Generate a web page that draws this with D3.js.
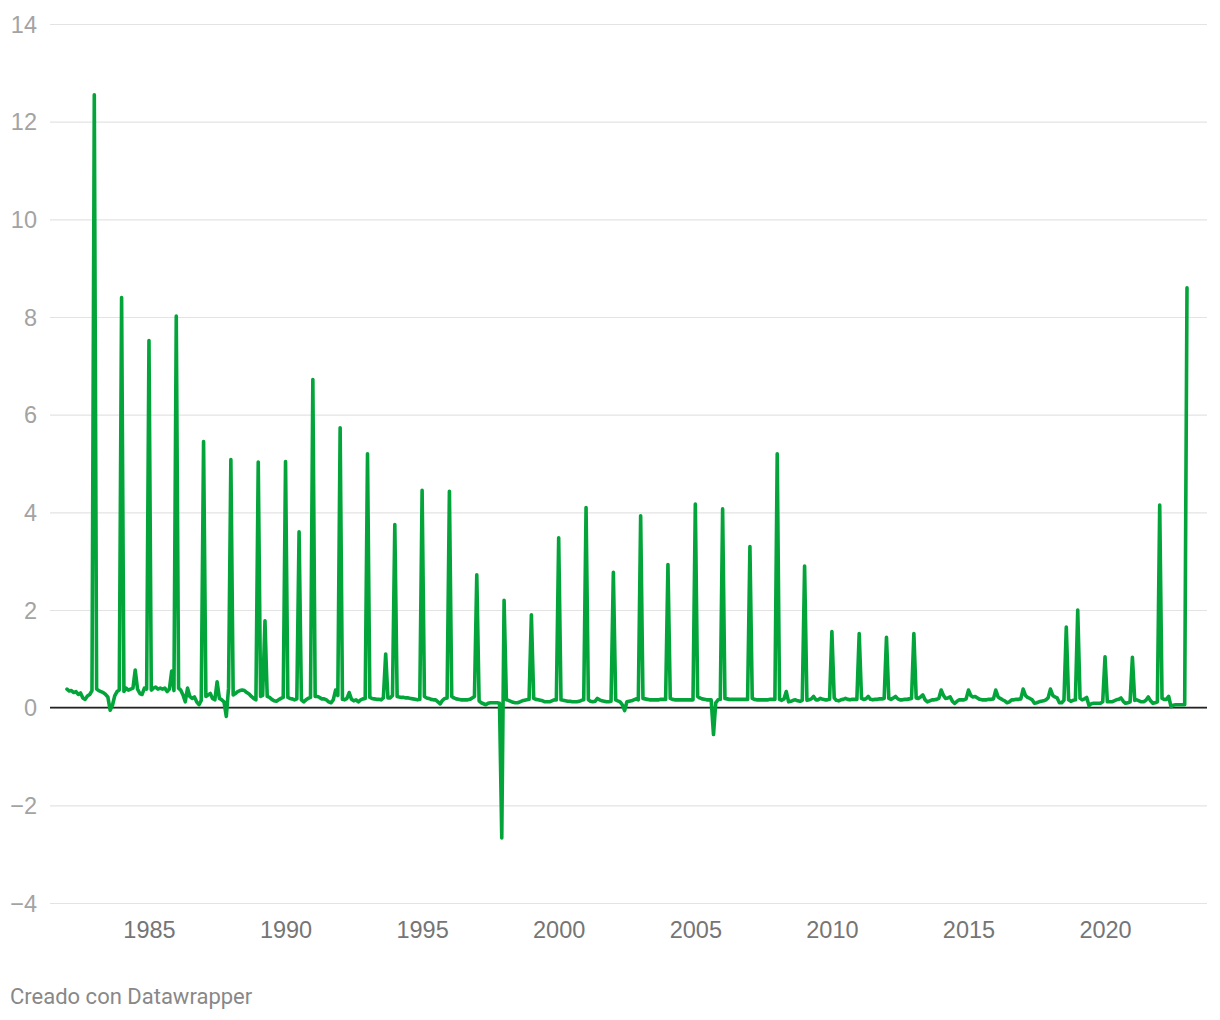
<!DOCTYPE html>
<html>
<head>
<meta charset="utf-8">
<script src="https://cdn.jsdelivr.net/npm/d3@7"></script>
<style>
  html, body { margin: 0; padding: 0; background: #ffffff; }
  svg { display: block; font-family: Roboto, "Noto Sans", sans-serif; }
</style>
</head>
<body>
<svg id="chart" width="1220" height="1020"></svg>
<script>
// ---- data (monthly values, one row per year starting January 1982) ----
const startYear = 1982;
const v1982 = [0.38,0.34,0.35,0.31,0.33,0.27,0.30,0.20,0.17,0.24,0.27,0.35];
const v1983 = [12.55,0.38,0.35,0.33,0.31,0.27,0.22,-0.05,0.05,0.24,0.33,0.36];
const v1984 = [8.40,0.33,0.40,0.36,0.38,0.40,0.77,0.38,0.29,0.27,0.40,0.38];
const v1985 = [7.52,0.36,0.40,0.42,0.38,0.40,0.38,0.40,0.33,0.38,0.75,0.35];
const v1986 = [8.02,0.40,0.36,0.26,0.12,0.40,0.23,0.19,0.22,0.12,0.06,0.15];
const v1987 = [5.45,0.23,0.26,0.29,0.19,0.16,0.53,0.19,0.16,0.12,-0.18,0.40];
const v1988 = [5.08,0.26,0.29,0.33,0.35,0.36,0.35,0.31,0.28,0.23,0.19,0.16];
const v1989 = [5.03,0.23,0.25,1.78,0.23,0.21,0.17,0.14,0.13,0.16,0.19,0.21];
const v1990 = [5.04,0.21,0.19,0.18,0.16,0.18,3.60,0.16,0.12,0.16,0.19,0.21];
const v1991 = [6.72,0.23,0.23,0.21,0.18,0.18,0.16,0.12,0.10,0.16,0.36,0.25];
const v1992 = [5.73,0.17,0.16,0.19,0.31,0.17,0.14,0.16,0.12,0.16,0.18,0.19];
const v1993 = [5.20,0.21,0.19,0.18,0.17,0.17,0.16,0.20,1.10,0.20,0.20,0.25];
const v1994 = [3.75,0.23,0.22,0.21,0.21,0.20,0.20,0.19,0.18,0.17,0.16,0.17];
const v1995 = [4.45,0.23,0.20,0.19,0.17,0.16,0.16,0.12,0.08,0.15,0.19,0.20];
const v1996 = [4.43,0.23,0.20,0.18,0.17,0.16,0.16,0.16,0.16,0.17,0.20,0.23];
const v1997 = [2.72,0.14,0.10,0.08,0.06,0.09,0.10,0.10,0.10,0.10,0.09,-2.67];
const v1998 = [2.20,0.16,0.15,0.13,0.11,0.10,0.10,0.12,0.14,0.15,0.16,0.17];
const v1999 = [1.90,0.19,0.17,0.16,0.15,0.14,0.12,0.12,0.12,0.14,0.16,0.16];
const v2000 = [3.48,0.16,0.15,0.14,0.13,0.13,0.12,0.12,0.12,0.13,0.15,0.16];
const v2001 = [4.10,0.16,0.13,0.12,0.13,0.19,0.16,0.14,0.13,0.12,0.12,0.13];
const v2002 = [2.77,0.16,0.14,0.12,0.06,-0.06,0.12,0.13,0.14,0.16,0.18,0.16];
const v2003 = [3.93,0.19,0.18,0.17,0.16,0.16,0.16,0.16,0.16,0.17,0.17,0.17];
const v2004 = [2.93,0.19,0.17,0.16,0.16,0.16,0.16,0.16,0.16,0.16,0.16,0.16];
const v2005 = [4.17,0.23,0.20,0.18,0.17,0.16,0.16,0.16,-0.55,0.10,0.16,0.17];
const v2006 = [4.07,0.19,0.18,0.17,0.17,0.17,0.17,0.17,0.17,0.17,0.17,0.17];
const v2007 = [3.30,0.19,0.17,0.16,0.16,0.16,0.16,0.16,0.16,0.17,0.17,0.17];
const v2008 = [5.20,0.17,0.15,0.18,0.33,0.12,0.13,0.15,0.16,0.14,0.13,0.15];
const v2009 = [2.90,0.15,0.16,0.18,0.23,0.16,0.16,0.19,0.17,0.16,0.16,0.17];
const v2010 = [1.56,0.20,0.15,0.14,0.16,0.17,0.19,0.17,0.16,0.17,0.17,0.17];
const v2011 = [1.52,0.19,0.17,0.18,0.23,0.17,0.16,0.17,0.17,0.18,0.18,0.19];
const v2012 = [1.44,0.19,0.17,0.20,0.23,0.18,0.16,0.16,0.17,0.17,0.18,0.19];
const v2013 = [1.52,0.20,0.19,0.22,0.26,0.16,0.12,0.14,0.16,0.16,0.17,0.19];
const v2014 = [0.36,0.25,0.19,0.20,0.22,0.13,0.09,0.13,0.16,0.16,0.16,0.18];
const v2015 = [0.36,0.25,0.22,0.23,0.20,0.17,0.16,0.16,0.16,0.17,0.17,0.18];
const v2016 = [0.36,0.22,0.19,0.16,0.14,0.10,0.12,0.16,0.16,0.17,0.17,0.18];
const v2017 = [0.38,0.25,0.21,0.19,0.16,0.09,0.10,0.12,0.13,0.14,0.16,0.20];
const v2018 = [0.38,0.25,0.22,0.20,0.10,0.10,0.15,1.65,0.16,0.13,0.15,0.16];
const v2019 = [2.00,0.19,0.16,0.18,0.21,0.04,0.08,0.09,0.09,0.09,0.09,0.12];
const v2020 = [1.04,0.12,0.12,0.12,0.14,0.16,0.17,0.20,0.13,0.09,0.10,0.12];
const v2021 = [1.03,0.15,0.16,0.14,0.12,0.12,0.15,0.22,0.14,0.09,0.10,0.12];
const v2022 = [4.15,0.19,0.17,0.17,0.23,0.02,0.05,0.06,0.06,0.06,0.06,0.06];
const v2023 = [8.60];

const yearRows = [v1982,v1983,v1984,v1985,v1986,v1987,v1988,v1989,v1990,v1991,
  v1992,v1993,v1994,v1995,v1996,v1997,v1998,v1999,v2000,v2001,v2002,v2003,
  v2004,v2005,v2006,v2007,v2008,v2009,v2010,v2011,v2012,v2013,v2014,v2015,
  v2016,v2017,v2018,v2019,v2020,v2021,v2022,v2023];

const yTickValues = [-4,-2,0,2,4,6,8,10,12,14];
const xTickYears = [1985,1990,1995,2000,2005,2010,2015,2020];
const footerText = "Creado con Datawrapper";

// ---- build series ----
const series = [];
yearRows.forEach((row, yi) => {
  row.forEach((val, m) => {
    series.push({ date: new Date(startYear + yi, m, 1), value: val });
  });
});

// ---- drawing ----
const svg = d3.select("#chart");
const gridLeft = 50, gridRight = 1207;

const x = d3.scaleTime()
  .domain([new Date(1982, 0, 1), new Date(2023, 0, 1)])
  .range([67, 1187]);
const y = d3.scaleLinear().domain([-4, 14]).range([903, 24]);

// y grid + labels
const yAxis = d3.axisLeft(y)
  .tickValues(yTickValues)
  .tickSize(-(gridRight - gridLeft))
  .tickPadding(13)
  .tickFormat(d => d < 0 ? "\u2212" + Math.abs(d) : String(d));

const gy = svg.append("g")
  .attr("transform", `translate(${gridLeft},0)`)
  .call(yAxis);
gy.select(".domain").remove();
gy.selectAll(".tick line")
  .attr("stroke", "#e3e3e3")
  .attr("stroke-width", 1.2);
gy.selectAll(".tick text")
  .attr("fill", "#a3a3a3")
  .attr("font-size", 23.5)
  .attr("dy", "0.35em");

// x labels
const xAxis = d3.axisBottom(x)
  .tickValues(xTickYears.map(yr => new Date(yr, 0, 1)))
  .tickSize(0)
  .tickPadding(0)
  .tickFormat(d3.timeFormat("%Y"));
const gx = svg.append("g")
  .attr("transform", `translate(0,930)`)
  .call(xAxis);
gx.select(".domain").remove();
gx.selectAll(".tick text")
  .attr("fill", "#757575")
  .attr("font-size", 23.5)
  .attr("dy", "0.35em");

// zero baseline
svg.append("line")
  .attr("x1", gridLeft).attr("x2", gridRight)
  .attr("y1", y(0)).attr("y2", y(0))
  .attr("stroke", "#222")
  .attr("stroke-width", 1.6);

// line
const line = d3.line()
  .x(d => x(d.date))
  .y(d => y(d.value));

svg.append("path")
  .datum(series)
  .attr("fill", "none")
  .attr("stroke", "#03a53a")
  .attr("stroke-width", 3.6)
  .attr("stroke-linejoin", "round")
  .attr("stroke-linecap", "round")
  .attr("d", line);

// footer
svg.append("text")
  .attr("x", 10)
  .attr("y", 1004)
  .attr("fill", "#888")
  .attr("font-size", 22)
  .text(footerText);
</script>
</body>
</html>
